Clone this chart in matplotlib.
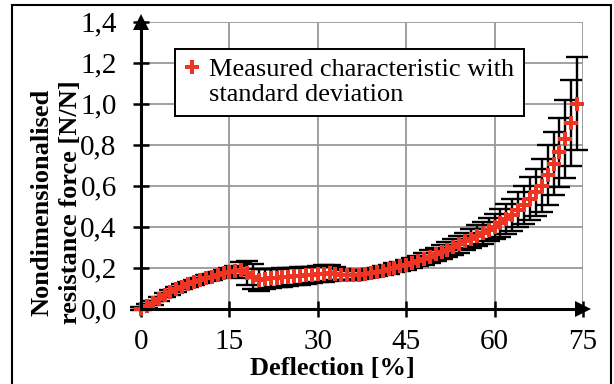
import matplotlib
matplotlib.use("Agg")
import matplotlib.pyplot as plt
from matplotlib.lines import Line2D
from matplotlib.patches import Rectangle
from matplotlib.ticker import FuncFormatter

deflection = list(range(0, 75))
force_mean = [
    0.000, 0.012, 0.028, 0.048, 0.064, 0.079, 0.093, 0.106, 0.118, 0.128,
    0.138, 0.147, 0.155, 0.163, 0.171, 0.178, 0.184, 0.188, 0.175, 0.155,
    0.140, 0.144, 0.147, 0.150, 0.152, 0.155, 0.157, 0.159, 0.161, 0.164,
    0.167, 0.170, 0.174, 0.170, 0.165, 0.163, 0.162, 0.164, 0.168, 0.173,
    0.179, 0.185, 0.191, 0.198, 0.205, 0.212, 0.222, 0.232, 0.242, 0.253,
    0.264, 0.275, 0.287, 0.300, 0.313, 0.327, 0.341, 0.355, 0.370, 0.385,
    0.400, 0.418, 0.437, 0.458, 0.481, 0.505, 0.535, 0.566, 0.600, 0.652,
    0.707, 0.761, 0.829, 0.906, 1.000,
]
force_std = [
    0.005, 0.008, 0.009, 0.010, 0.010, 0.011, 0.011, 0.012, 0.012, 0.012,
    0.013, 0.014, 0.015, 0.016, 0.017, 0.018, 0.022, 0.040, 0.058, 0.060,
    0.055, 0.048, 0.046, 0.045, 0.045, 0.044, 0.043, 0.042, 0.041, 0.040,
    0.040, 0.040, 0.038, 0.032, 0.028, 0.025, 0.022, 0.021, 0.020, 0.020,
    0.020, 0.020, 0.021, 0.022, 0.023, 0.024, 0.025, 0.026, 0.028, 0.030,
    0.032, 0.034, 0.036, 0.038, 0.040, 0.043, 0.046, 0.050, 0.054, 0.058,
    0.063, 0.068, 0.073, 0.078, 0.085, 0.095, 0.105, 0.115, 0.130, 0.145,
    0.155, 0.170, 0.190, 0.210, 0.225,
]
x_ticks = [0, 15, 30, 45, 60, 75]
y_ticks = [0.0, 0.2, 0.4, 0.6, 0.8, 1.0, 1.2, 1.4]
legend_lines = ["Measured characteristic with", "standard deviation"]

plt.rcParams['font.family'] = ['Liberation Serif', 'DejaVu Serif']

fig = plt.figure(figsize=(6.14, 3.84), dpi=100)
ax = fig.add_axes([141/614, 1-308.5/384, 442/614, 287/384])

red = '#ee3524'
ax.errorbar(deflection, force_mean, yerr=force_std, fmt='none', ecolor='black',
            elinewidth=1.7, capsize=8, capthick=1.7, zorder=3, clip_on=False)
ax.plot(deflection, force_mean, linestyle='none', marker='P', markersize=9.5,
        color=red, markeredgewidth=0, zorder=4, clip_on=False)

ax.set_xlim(0, 75)
ax.set_ylim(0, 1.4)
ax.set_xticks(x_ticks)
ax.set_yticks(y_ticks)
ax.yaxis.set_major_formatter(FuncFormatter(lambda v, p: f"{v:.1f}".replace('.', ',')))
ax.grid(True, color='#999999', linewidth=1.3, zorder=0)
ax.set_axisbelow(True)
for s in ['top', 'right']:
    ax.spines[s].set_visible(False)
for s in ['left', 'bottom']:
    ax.spines[s].set_linewidth(2.2)
    ax.spines[s].set_color('black')
    ax.spines[s].set_zorder(5)
ax.tick_params(axis='both', direction='inout', length=11, width=1.8, colors='black',
               labelsize=21)
ax.tick_params(axis='x', pad=9)
ax.tick_params(axis='y', pad=12)

# axis arrows
ax.plot([0], [1], marker='^', markersize=12, color='black', transform=ax.transAxes,
        clip_on=False, zorder=6, markeredgewidth=0)
ax.plot([1], [0], marker='>', markersize=11, color='black', transform=ax.transAxes,
        clip_on=False, zorder=6, markeredgewidth=0)

# legend
h1 = Line2D([], [], linestyle='none', marker='P', markersize=10, color=red, markeredgewidth=0)
h2 = Line2D([], [], linestyle='none', marker=None)
leg = ax.legend([h1, h2], legend_lines, loc='upper left', bbox_to_anchor=(0.077, 0.905),
                borderaxespad=0, fontsize=19, frameon=True, fancybox=False,
                framealpha=1, edgecolor='black', handlelength=0.6, handletextpad=0.35,
                borderpad=0.35, labelspacing=0.05)
leg.get_frame().set_linewidth(1.4)
leg.set_zorder(7)

fig.text(56/614, 1-202/384, "Nondimensionalised\nresistance force [N/N]", rotation=90,
         ha='center', va='center', fontsize=19, fontweight='bold', linespacing=1.28,
         multialignment='center')
fig.text(332/614, 1-368/384, "Deflection [%]", ha='center', va='center', fontsize=19,
         fontweight='bold')

fig.patches.append(Rectangle((12/614, -0.02), (611-12)/614, 1-5/384+0.02,
                             transform=fig.transFigure, fill=False, edgecolor='black',
                             linewidth=1.5, zorder=10))

fig.savefig("out.png", dpi=100)
